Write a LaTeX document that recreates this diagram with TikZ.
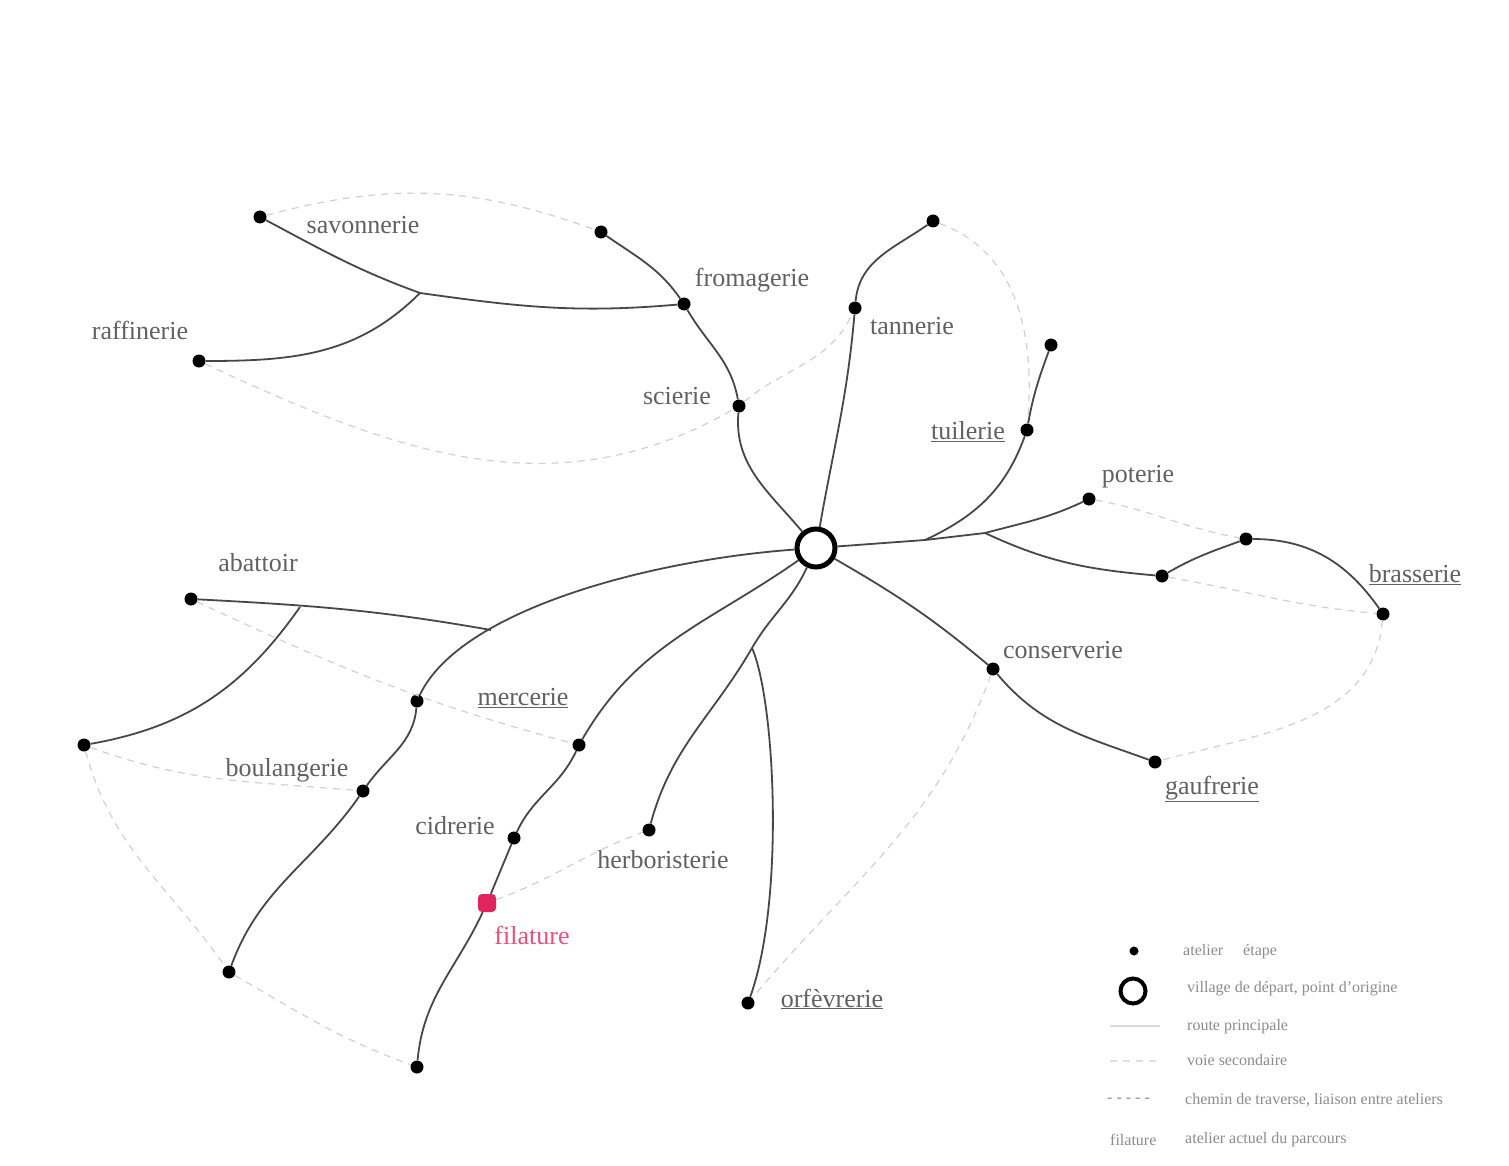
\documentclass[tikz,border=0pt]{standalone}
\usepackage{fontspec}
\setmainfont{Liberation Serif}
\definecolor{filred}{HTML}{E0245E}
\begin{document}
\begin{tikzpicture}[x=1pt,y=1pt,
  dot/.style={circle,fill=black,inner sep=0pt,minimum size=13pt},
  reddot/.style={rectangle,rounded corners=4pt,fill=filred,inner sep=0pt,minimum size=18pt},
  hubnode/.style={circle,draw=black,line width=5pt,fill=white,inner sep=0pt,minimum size=38pt},
  road/.style={draw=black!72,line width=1.8pt},
  trail/.style={draw=black!18,line width=1.2pt,dash pattern=on 7pt off 6pt},
  lbl/.style={font=\fontsize{26}{30}\selectfont,text=black!62,inner sep=1pt},
  leg/.style={font=\fontsize{16}{19}\selectfont,text=black!45,inner sep=0pt,anchor=west}]
\useasboundingbox[fill=white] (0,0) rectangle (1509,-1166);

% ---- dots
\node[hubnode] (hub) at (816,-548) {};
\node[dot] (savD) at (260,-217) {};
\node[dot] (topA) at (601,-232) {};
\node[dot] (fromD) at (684,-304) {};
\node[dot] (rafD) at (199,-361) {};
\node[dot] (sciD) at (739,-406) {};
\node[dot] (tanD) at (855,-308) {};
\node[dot] (topB) at (933,-221) {};
\node[dot] (tuiD2) at (1051,-345) {};
\node[dot] (tuiD) at (1027,-430) {};
\node[dot] (potD) at (1089,-499) {};
\node[dot] (b1) at (1162,-576) {};
\node[dot] (b2) at (1246,-539) {};
\node[dot] (braD) at (1383,-614) {};
\node[dot] (conD) at (993,-669) {};
\node[dot] (gauD) at (1155,-762) {};
\node[dot] (orfD) at (748,-1003) {};
\node[dot] (herD) at (649,-830) {};
\node[dot] (m2) at (579,-745) {};
\node[dot] (cidD) at (514,-838) {};
\node[dot] (botD) at (417,-1067) {};
\node[dot] (merD) at (417,-701) {};
\node[dot] (bouD) at (363,-791) {};
\node[dot] (blD) at (229,-972) {};
\node[dot] (abaD) at (191,-599) {};
\node[dot] (llD) at (84,-745) {};
\coordinate (j1) at (420,-293);
\coordinate (e1) at (925,-540);
\coordinate (j2) at (985,-533);
\coordinate (jh) at (752,-648);
\coordinate (j4) at (491,-630);
\coordinate (j3) at (300,-607);

% ---- faint dashed trails
\begin{scope}[every path/.style={trail}]
\draw (savD) to[out=15,in=160] (topA);
\draw (rafD) to[out=-25,in=-150] (sciD);
\draw (sciD) to[out=40,in=-115] (tanD);
\draw (topB) to[out=-20,in=85] (tuiD);
\draw (potD) to[out=-10,in=170] (b2);
\draw (b1) to[out=-10,in=175] (braD);
\draw (braD) to[out=-95,in=15] (gauD);
\draw (conD) to[out=-110,in=50] (orfD);
\draw (abaD) to[out=-25,in=165] (m2);
\draw (llD) to[out=-20,in=175] (bouD);
\draw (llD) to[out=-75,in=125] (blD);
\draw (blD) to[out=-30,in=160] (botD);
\end{scope}

% ---- red dot (drawn before its roads)
\node[reddot] (filD) at (487,-903) {};
\draw[trail] (filD) to[out=20,in=-160] (herD);

% ---- roads
\draw[road] (savD) to[out=-28,in=160] (j1);
\draw[road] (j1) to[out=-8,in=185] (fromD);
\draw[road] (rafD) to[out=0,in=-135] (j1);
\draw[road] (topA) to[out=-35,in=125] (fromD);
\draw[road] (fromD) to[out=-60,in=100] (sciD);
\draw[road] (sciD) to[out=-95,in=130] (hub);
\draw[road] (hub) to[out=80,in=-95] (tanD);
\draw[road] (tanD) to[out=85,in=-145] (topB);
\draw[road] (tuiD2) to[out=-110,in=80] (tuiD);
\draw[road] (tuiD) to[out=-110,in=25] (e1);
\draw[road] (hub) -- (e1) -- (j2);
\draw[road] (j2) to[out=15,in=-155] (potD);
\draw[road] (j2) to[out=-25,in=175] (b1);
\draw[road] (b1) to[out=30,in=200] (b2);
\draw[road] (b2) to[out=0,in=125] (braD);
\draw[road] (hub) to[out=-30,in=140] (conD);
\draw[road] (conD) to[out=-50,in=160] (gauD);
\draw[road] (hub) to[out=-115,in=60] (jh);
\draw[road] (jh) to[out=-120,in=75] (herD);
\draw[road] (jh) .. controls (775,-700) and (785,-900) .. (orfD);
\draw[road] (hub) to[out=-145,in=60] (m2);
\draw[road] (m2) to[out=-115,in=65] (cidD);
\draw[road] (cidD) -- (filD);
\draw[road] (filD) to[out=-115,in=85] (botD);
\draw[road] (hub) .. controls (650,-560) and (460,-610) .. (merD);
\draw[road] (merD) to[out=-95,in=55] (bouD);
\draw[road] (bouD) to[out=-125,in=70] (blD);
\draw[road] (abaD) to[out=-3,in=170] (j4);
\draw[road] (llD) to[out=10,in=-125] (j3);

% ---- labels
\node[lbl] (lsav) at (363,-225) {savonnerie};
\node[lbl] (lraf) at (140,-330) {raffinerie};
\node[lbl] (lfro) at (752,-280) {fromagerie};
\node[lbl] (lsci) at (677,-396) {scierie};
\node[lbl] (ltan) at (912,-326) {tannerie};
\node[lbl] (ltui) at (968,-432) {\underline{tuilerie}};
\node[lbl] (lpot) at (1138,-477) {poterie};
\node[lbl] (lbra) at (1415,-575) {\underline{brasserie}};
\node[lbl] (lcon) at (1063,-650) {conserverie};
\node[lbl] (lgau) at (1212,-789) {\underline{gaufrerie}};
\node[lbl] (lorf) at (832,-999) {\underline{orfèvrerie}};
\node[lbl] (lher) at (663,-860) {herboristerie};
\node[lbl] (lcid) at (455,-826) {cidrerie};
\node[lbl,text=filred!80] (lfil) at (532,-935) {filature};
\node[lbl] (lmer) at (523,-698) {\underline{mercerie}};
\node[lbl] (lbou) at (287,-770) {boulangerie};
\node[lbl] (laba) at (258,-563) {abattoir};

% ---- legend
\node[dot,minimum size=9pt] (gdot) at (1134,-951) {};
\node[leg] (gt1) at (1183,-952) {atelier \quad étape};
\node[circle,draw=black,line width=4pt,minimum size=25pt,inner sep=0pt] (gcir) at (1133,-991) {};
\node[leg] (gt2) at (1187,-989) {village de départ, point d'origine};
\coordinate (g3a) at (1110,-1026);
\coordinate (g3b) at (1160,-1026);
\draw[draw=black!15,line width=1.5pt] (g3a) -- (g3b);
\node[leg] (gt3) at (1187,-1027) {route principale};
\coordinate (g4a) at (1110,-1061);
\coordinate (g4b) at (1160,-1061);
\draw[trail,draw=black!12] (g4a) -- (g4b);
\node[leg] (gt4) at (1187,-1060) {voie secondaire};
\node[leg] (gp5) at (1107,-1100) {- - - - -};
\node[leg] (gt5) at (1185,-1100) {chemin de traverse, liaison entre ateliers};
\node[leg] (gp6) at (1110,-1140) {filature};
\node[leg] (gt6) at (1185,-1140) {atelier actuel du parcours};
\end{tikzpicture}
\end{document}
